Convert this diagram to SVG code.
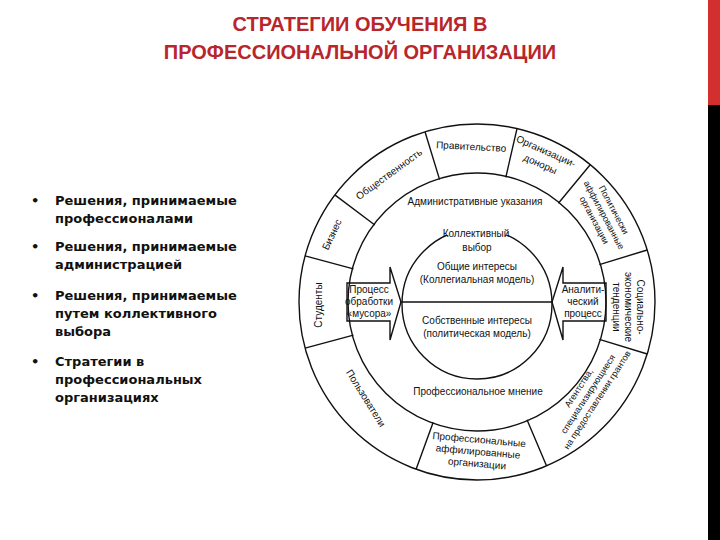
<svg xmlns="http://www.w3.org/2000/svg" width="720" height="540" viewBox="0 0 720 540">
<style>
.t{font-family:"Liberation Sans",Arial,sans-serif;font-size:10px;fill:#111;text-anchor:middle}
.s{font-size:9px}
.b{font-family:"DejaVu Sans",Verdana,sans-serif;font-size:13px;font-weight:bold;fill:#111}
.h{font-family:"Liberation Sans",Arial,sans-serif;font-size:20px;font-weight:bold;fill:#b8262c;text-anchor:middle}
.l{stroke:#111;stroke-width:1.4;fill:none}
</style>
<rect width="720" height="540" fill="#fff"/>
<rect x="708" y="0" width="12" height="105" fill="#d32f2f"/>
<rect x="708" y="105" width="12" height="435" fill="#000"/>
<g id="title">
<text class="h" x="360" y="31">СТРАТЕГИИ ОБУЧЕНИЯ В</text>
<text class="h" x="360" y="59">ПРОФЕССИОНАЛЬНОЙ ОРГАНИЗАЦИИ</text>
</g>
<g id="bullets">
<text class="b" x="31" y="205">•</text>
<text class="b" x="55" y="205">Решения, принимаемые</text>
<text class="b" x="55" y="223">профессионалами</text>
<text class="b" x="31" y="251">•</text>
<text class="b" x="55" y="251">Решения, принимаемые</text>
<text class="b" x="55" y="269">администрацией</text>
<text class="b" x="31" y="300">•</text>
<text class="b" x="55" y="300">Решения, принимаемые</text>
<text class="b" x="55" y="318">путем коллективного</text>
<text class="b" x="55" y="336">выбора</text>
<text class="b" x="31" y="366">•</text>
<text class="b" x="55" y="366">Стратегии в</text>
<text class="b" x="55" y="384">профессиональных</text>
<text class="b" x="55" y="402">организациях</text>
</g>
<g id="connectors">
<circle class="l" cx="477" cy="302" r="178"/>
<circle class="l" cx="477" cy="302" r="129"/>
<circle class="l" cx="477" cy="304" r="75"/>
<line class="l" x1="400" y1="302" x2="553" y2="302"/>
<path class="l" d="M439.6,179.6L425,131.8M505.8,177.3L517,128.6M558.4,203.2L590.2,164.7M599.4,264.6L647.2,250M599.4,339.4L647.2,354M527,419.8L546.5,465.8M433.2,422.3L416.1,469.3M353.4,335.1L305.1,348.1M353.4,268.9L305.1,255.9M374.8,225L334.8,194.9"/>
<polygon class="l" fill="#fff" points="347,283 390,283 390,267 401,302 390,340 390,321 347,321"/>
<polygon class="l" fill="#fff" points="606,283 563,283 563,267 552,302 563,340 563,321 606,321"/>
</g>
<g id="outer">
<text class="t" transform="translate(391,177) rotate(-36)">Общественность</text>
<text class="t" transform="translate(471,150) rotate(3)">Правительство</text>
<text class="t" transform="translate(543,158) rotate(24)"><tspan x="0" dy="-4">Организации-</tspan><tspan x="0" dy="14">доноры</tspan></text>
<text class="t s" transform="translate(604,215) rotate(62)"><tspan x="0" dy="-8">Политически</tspan><tspan x="0" dy="11">аффилированные</tspan><tspan x="0" dy="11">организации</tspan></text>
<text class="t" transform="translate(628,307) rotate(90)"><tspan x="0" dy="-9">Социально-</tspan><tspan x="0" dy="12">экономические</tspan><tspan x="0" dy="12">тенденции</tspan></text>
<text class="t s" transform="translate(588,394) rotate(-57)"><tspan x="0" dy="-8">Агентства,</tspan><tspan x="0" dy="11">специализирующиеся</tspan><tspan x="0" dy="11">на предоставлении грантов</tspan></text>
<text class="t" transform="translate(478,452) rotate(5)"><tspan x="0" dy="-9">Профессиональные</tspan><tspan x="0" dy="12">аффилированные</tspan><tspan x="0" dy="12">организации</tspan></text>
<text class="t" transform="translate(363,400) rotate(58)">Пользователи</text>
<text class="t" transform="translate(322,305) rotate(-90)">Студенты</text>
<text class="t" transform="translate(335,236) rotate(-65)">Бизнес</text>
</g>
<g id="middle">
<text class="t" x="475" y="205">Административные указания</text>
<text class="t" x="478" y="395">Профессиональное мнение</text>
</g>
<g id="inner">
<rect x="440" y="223" width="72" height="12" fill="#fff"/>
<text class="t" x="476" y="237">Коллективный</text>
<text class="t" x="477" y="251">выбор</text>
<text class="t" x="477" y="270">Общие интересы</text>
<text class="t" x="477" y="283">(Коллегиальная модель)</text>
<text class="t" x="477" y="324">Собственные интересы</text>
<text class="t" x="477" y="337">(политическая модель)</text>
</g>
<g id="arrows">
<text class="t" x="369" y="293">Процесс<tspan x="369" dy="12">обработки</tspan><tspan x="369" dy="12">«мусора»</tspan></text>
<text class="t" x="583" y="293">Аналити-<tspan x="583" dy="12">ческий</tspan><tspan x="583" dy="12">процесс</tspan></text>
</g>
</svg>
